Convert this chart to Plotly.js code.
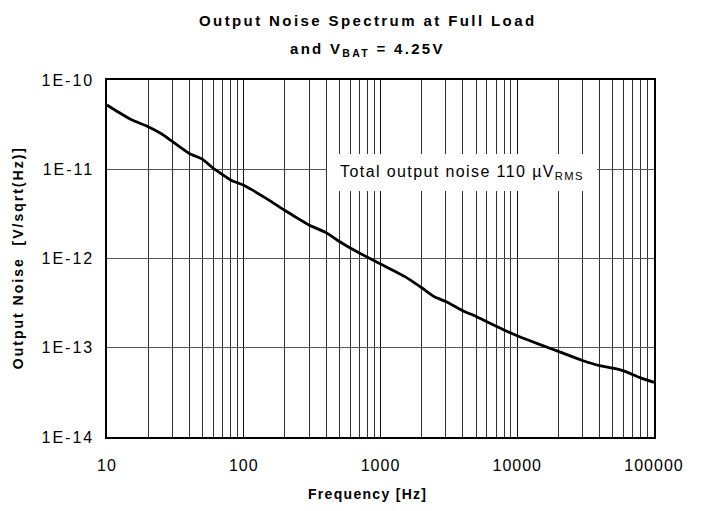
<!DOCTYPE html>
<html>
<head>
<meta charset="utf-8">
<script src="https://cdn.plot.ly/plotly-3.0.1.min.js"></script>
<style>html,body{margin:0;padding:0;background:#fff;}#chart{width:701px;height:511px;}</style>
</head>
<body>
<div id="chart"></div>
<script>
var frequencyHz = [10,12,15,20,25,30,40,50,60,70,80,100,150,200,250,300,400,500,700,1000,1500,2000,2500,3000,4000,5000,6000,8000,10000,15000,20000,30000,40000,50000,60000,80000,100000];
var noiseVperRtHz = [5.25e-11,4.4e-11,3.6e-11,3.0e-11,2.5e-11,2.05e-11,1.5e-11,1.29e-11,1.02e-11,8.7e-12,7.6e-12,6.6e-12,4.6e-12,3.45e-12,2.8e-12,2.37e-12,1.95e-12,1.55e-12,1.15e-12,8.7e-13,6.3e-13,4.7e-13,3.7e-13,3.3e-13,2.6e-13,2.24e-13,1.95e-13,1.58e-13,1.36e-13,1.07e-13,9.1e-14,7.2e-14,6.3e-14,5.9e-14,5.5e-14,4.6e-14,4.1e-14];
var xTickVals = [10,100,1000,10000,100000];
var xTickText = ['10','100','1000','10000','100000'];
var yTickVals = [1e-14,1e-13,1e-12,1e-11,1e-10];
var yTickText = ['1E-14','1E-13','1E-12','1E-11','1E-10'];
var titleLine1 = 'Output Noise Spectrum at Full Load';
var titleLine2 = 'and V<sub>BAT</sub> = 4.25V';
var xTitle = 'Frequency [Hz]';
var yTitle = 'Output Noise  [V/sqrt(Hz)]';
var noteText = 'Total output noise 110 \u00b5V<sub>RMS</sub>';

function sp(t, s) { return '<span style="letter-spacing:' + s + 'px">' + t + '</span>'; }

var minorX = [];
for (var d = 10; d < 100000; d *= 10) {
  for (var m = 2; m <= 9; m++) minorX.push(d * m);
}

var trace = {
  x: frequencyHz, y: noiseVperRtHz, type: 'scatter', mode: 'lines',
  line: {color: '#000', width: 2.8, shape: 'spline', smoothing: 0.6},
  hoverinfo: 'skip'
};

var font = 'Liberation Sans, Arial, sans-serif';
var layout = {
  width: 701, height: 511,
  margin: {l: 107, r: 47, t: 80, b: 74},
  paper_bgcolor: '#fff', plot_bgcolor: '#fff',
  showlegend: false,
  font: {family: font, size: 14, color: '#000'},
  xaxis: {
    type: 'log', range: [1, 5],
    tickmode: 'array', tickvals: xTickVals, ticktext: xTickText.map(function (t) { return sp(t, 1); }),
    ticks: '', ticklabelstandoff: 13,
    showgrid: true, gridcolor: '#111', gridwidth: 1,
    minor: {tickmode: 'array', tickvals: minorX, showgrid: true, gridcolor: '#333', gridwidth: 1, ticks: ''},
    showline: true, linecolor: '#000', linewidth: 1.6, mirror: true,
    zeroline: false,
    tickfont: {family: font, size: 16, color: '#000'}
  },
  yaxis: {
    type: 'log', range: [-14, -10],
    tickmode: 'array', tickvals: yTickVals, ticktext: yTickText.map(function (t) { return sp(t, 2); }),
    ticks: '', ticklabelstandoff: 8,
    showgrid: true, gridcolor: '#555', gridwidth: 1,
    showline: true, linecolor: '#000', linewidth: 1.6, mirror: true,
    zeroline: false,
    tickfont: {family: font, size: 16, color: '#000'}
  },
  annotations: [
    {xref: 'paper', yref: 'paper', x: 0.477, y: 1, xanchor: 'center', yanchor: 'bottom',
     yshift: 49, showarrow: false, text: '<b>' + sp(titleLine1, 2.4) + '</b>',
     font: {family: font, size: 15, color: '#000'}},
    {xref: 'paper', yref: 'paper', x: 0.477, y: 1, xanchor: 'center', yanchor: 'bottom',
     yshift: 19, showarrow: false, text: '<b>' + sp(titleLine2, 2.3) + '</b>',
     font: {family: font, size: 15, color: '#000'}},
    {xref: 'paper', yref: 'paper', x: 0.477, y: -0.16, xanchor: 'center', yanchor: 'middle',
     showarrow: false, text: '<b>' + sp(xTitle, 1.3) + '</b>',
     font: {family: font, size: 14, color: '#000'}},
    {xref: 'paper', yref: 'paper', x: -0.1627, y: 0.501, xanchor: 'center', yanchor: 'middle',
     textangle: -90, showarrow: false, text: '<b>' + sp(yTitle, 2) + '</b>',
     font: {family: font, size: 14, color: '#000'}},
    {xref: 'x', yref: 'y', x: 3.596, y: -11.04, xanchor: 'center', yanchor: 'middle',
     showarrow: false, text: sp(noteText, 1.4), bgcolor: '#fff', borderpad: 8, borderwidth: 0,
     width: 254, height: 21,
     font: {family: font, size: 16, color: '#000'}}
  ]
};

Plotly.newPlot('chart', [trace], layout, {staticPlot: true, displayModeBar: false});
</script>
</body>
</html>
